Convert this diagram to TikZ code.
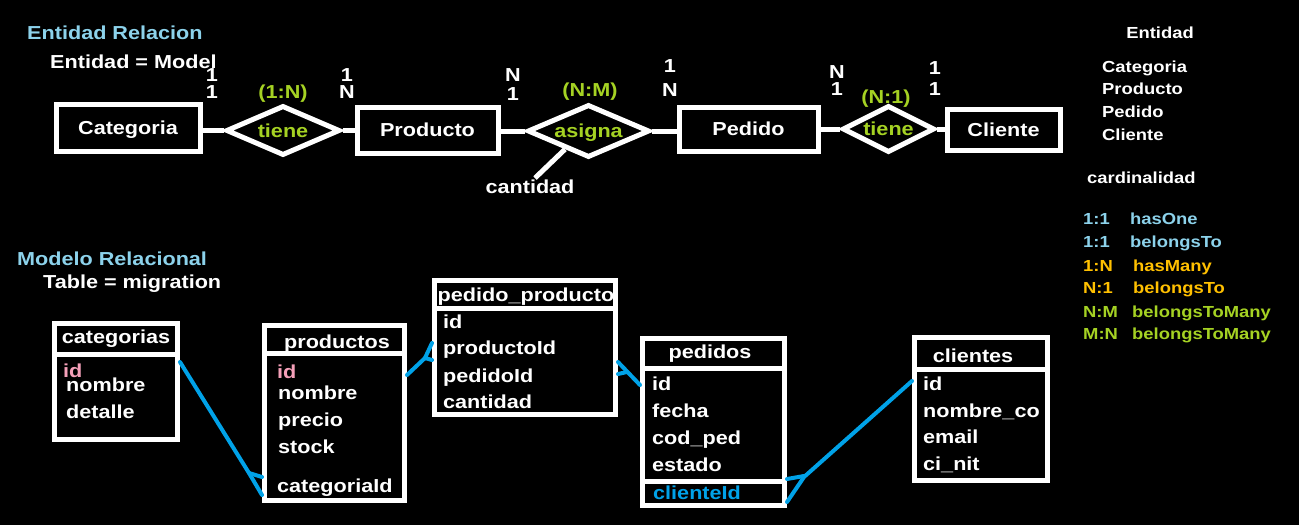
\documentclass[tikz,border=0pt]{standalone}
\usepackage{fontspec}
\setmainfont{Liberation Sans}[FakeStretch=1.15]
\usetikzlibrary{shapes.geometric,calc}
\definecolor{lblue}{RGB}{140,210,235}
\definecolor{lgreen}{RGB}{165,210,35}
\definecolor{orng}{RGB}{255,192,0}
\definecolor{pnk}{RGB}{245,160,185}
\definecolor{fkblue}{RGB}{0,162,232}
\begin{document}
\begin{tikzpicture}[x=1pt,y=-1pt,
  every node/.style={font=\fontsize{18.8}{22}\selectfont\bfseries, text=white, inner sep=0pt, text height=13.5pt, text depth=0pt},
  ent/.style={draw=white, line width=5pt, rectangle},
  rel/.style={draw=white, line width=5pt, diamond, aspect=2, text=lgreen},
  conn/.style={draw=white, line width=5pt},
  tbl/.style={draw=white, line width=5pt, rectangle},
  fk/.style={draw=fkblue, line width=4pt, line cap=round, line join=round},
  small/.style={font=\fontsize{16}{19}\selectfont\bfseries, text height=11.5pt},
  card/.style={text=lgreen},
]
\fill[black] (0,0) rectangle (1299,525);
\useasboundingbox (0,0) rectangle (1299,525);

% titles
\node[anchor=west, text=lblue] (t1) at (27,33) {Entidad Relacion};
\node[anchor=west] (t2) at (50,61.5) {Entidad = Model};

% ER diagram
\node[ent, minimum width=144pt, minimum height=47pt] (cat) at (128,127.5) {Categoria};
\node[rel, minimum width=114pt, minimum height=50pt] (r1) at (283,130.5) {tiene};
\node[ent, minimum width=141pt, minimum height=46pt] (prod) at (427.5,130) {Producto};
\node[rel, minimum width=122pt, minimum height=53pt] (r2) at (588.5,131) {asigna};
\node[ent, minimum width=139pt, minimum height=44pt] (ped) at (748.5,129) {Pedido};
\node[rel, minimum width=92pt, minimum height=47pt] (r3) at (888.5,129) {tiene};
\node[ent, minimum width=113pt, minimum height=41pt] (cli) at (1003.5,129.5) {Cliente};

\draw[conn] (cat.east |- r1.west) -- (r1.west);
\draw[conn] (r1.east) -- (prod.west |- r1.east);
\draw[conn] (prod.east |- r2.west) -- (r2.west);
\draw[conn] (r2.east) -- (ped.west |- r2.east);
\draw[conn] (ped.east |- r3.west) -- (r3.west);
\draw[conn] (r3.east) -- (cli.west |- r3.east);

\node (cant) at (530,187) {cantidad};
\draw[conn] ($(r2.west)!0.63!(r2.south)$) -- ([xshift=5pt,yshift=2pt]cant.north);

% cardinality labels
\node (a1) at (212,75) {1};
\node (a2) at (212,92) {1};
\node[card] (c1) at (283,92) {(1:N)};
\node (b1) at (347,75) {1};
\node (b2) at (347,92) {N};
\node (d1) at (513,75) {N};
\node (d2) at (513,94) {1};
\node[card] (c2) at (590,90) {(N:M)};
\node (e1) at (670,66) {1};
\node (e2) at (670,90) {N};
\node (f1) at (837,72) {N};
\node (f2) at (837,89) {1};
\node[card] (c3) at (886,97) {(N:1)};
\node (g1) at (935,68) {1};
\node (g2) at (935,89) {1};

% right column
\node[small] (ent) at (1160,33) {Entidad};
\node[small, anchor=west] (l1) at (1102,67) {Categoria};
\node[small, anchor=west] (l2) at (1102,89) {Producto};
\node[small, anchor=west] (l3) at (1102,112) {Pedido};
\node[small, anchor=west] (l4) at (1102,135) {Cliente};
\node[small, anchor=west] (cd) at (1087,178) {cardinalidad};
\node[small, anchor=west, text=lblue] (k1) at (1083,219) {1:1};
\node[small, anchor=west, text=lblue] (v1) at (1130,219) {hasOne};
\node[small, anchor=west, text=lblue] (k2) at (1083,242) {1:1};
\node[small, anchor=west, text=lblue] (v2) at (1130,242) {belongsTo};
\node[small, anchor=west, text=orng] (k3) at (1083,266) {1:N};
\node[small, anchor=west, text=orng] (v3) at (1133,266) {hasMany};
\node[small, anchor=west, text=orng] (k4) at (1083,288) {N:1};
\node[small, anchor=west, text=orng] (v4) at (1133,288) {belongsTo};
\node[small, anchor=west, text=lgreen] (k5) at (1083,312) {N:M};
\node[small, anchor=west, text=lgreen] (v5) at (1132,312) {belongsToMany};
\node[small, anchor=west, text=lgreen] (k6) at (1083,334) {M:N};
\node[small, anchor=west, text=lgreen] (v6) at (1132,334) {belongsToMany};

% relational model
\node[anchor=west, text=lblue] (t3) at (17,259) {Modelo Relacional};
\node[anchor=west] (t4) at (43,282) {Table = migration};

% categorias
\node[tbl, minimum width=123pt, minimum height=116pt] (catT) at (116,381.5) {};
\draw[conn] (catT.west |- 0,354) -- (catT.east |- 0,354);
\node (catH) at (116,337) {categorias};
\node[anchor=west, text=pnk] (cat1) at (63,371) {id};
\node[anchor=west] (cat2) at (66,385) {nombre};
\node[anchor=west] (cat3) at (66,412) {detalle};

% productos
\node[tbl, minimum width=140pt, minimum height=175pt] (prodT) at (334.5,413) {};
\draw[conn] (prodT.west |- 0,353) -- (prodT.east |- 0,353);
\node (prodH) at (337,342) {productos};
\node[anchor=west, text=pnk] (prod1) at (277,372) {id};
\node[anchor=west] (prod2) at (278,393) {nombre};
\node[anchor=west] (prod3) at (278,420) {precio};
\node[anchor=west] (prod4) at (278,447) {stock};
\node[anchor=west] (prod5) at (277,486) {categoriaId};

% pedido_producto
\node[tbl, minimum width=181pt, minimum height=134pt] (ppT) at (525,347.5) {};
\draw[conn] (ppT.west |- 0,308) -- (ppT.east |- 0,308);
\node (ppH) at (526,294.5) {pedido\_producto};
\node[anchor=west] (pp1) at (443,322) {id};
\node[anchor=west] (pp2) at (443,348) {productoId};
\node[anchor=west] (pp3) at (443,376) {pedidoId};
\node[anchor=west] (pp4) at (443,402) {cantidad};

% pedidos
\node[tbl, minimum width=142pt, minimum height=167pt] (pedT) at (713.5,422) {};
\draw[conn] (pedT.west |- 0,368) -- (pedT.east |- 0,368);
\draw[conn] (pedT.west |- 0,481) -- (pedT.east |- 0,481);
\node (pedH) at (710,352) {pedidos};
\node[anchor=west] (ped1) at (652,384) {id};
\node[anchor=west] (ped2) at (652,411) {fecha};
\node[anchor=west] (ped3) at (652,438) {cod\_ped};
\node[anchor=west] (ped4) at (652,465) {estado};
\node[anchor=west, text=fkblue] (ped5) at (653,493) {clienteId};

% clientes
\node[tbl, minimum width=133pt, minimum height=143pt] (cliT) at (981,409) {};
\draw[conn] (cliT.west |- 0,369) -- (cliT.east |- 0,369);
\node (cliH) at (973,356) {clientes};
\node[anchor=west] (cli1) at (923,384) {id};
\node[anchor=west] (cli2) at (923,411) {nombre\_co};
\node[anchor=west] (cli3) at (923,437) {email};
\node[anchor=west] (cli4) at (923,464) {ci\_nit};

% foreign key connectors
\draw[fk] (catT.east |- 0,362) -- (249,473) -- (prodT.west |- 0,495);
\draw[fk] (249,473) -- (prodT.west |- 0,477);

\draw[fk] (prodT.east |- 0,375) -- (425,358) -- (ppT.west |- 0,343);
\draw[fk] (425,358) -- (ppT.west |- 0,360);

\draw[fk] (ppT.east |- 0,362) -- (pedT.west |- 0,385);
\draw[fk] (ppT.east |- 0,374) -- (627,372);

\draw[fk] (pedT.east |- 0,502) -- (804,477) -- (cliT.west |- 0,381);
\draw[fk] (pedT.east |- 0,479) -- (804,476);
\end{tikzpicture}
\end{document}
